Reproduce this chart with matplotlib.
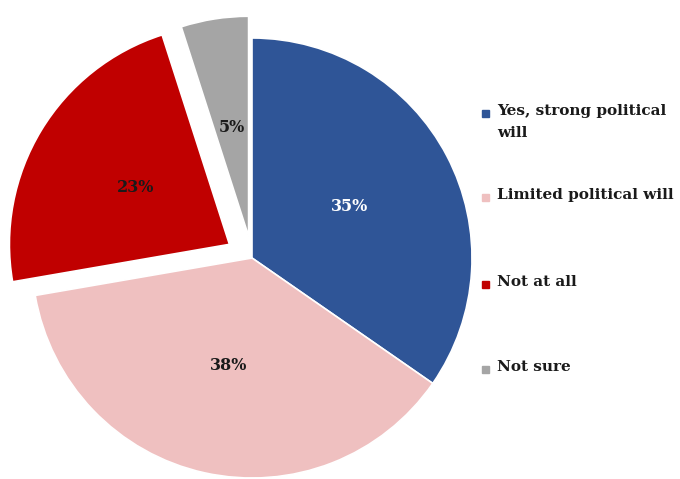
import matplotlib.pyplot as plt
from matplotlib.patches import Rectangle

labels = ['Yes, strong political\nwill', 'Limited political will', 'Not at all', 'Not sure']
values = [35, 38, 23, 5]
colors = ['#2F5597', '#EFC0C0', '#C00000', '#A5A5A5']
explode = [0, 0, 0.12, 0.1]
pct_colors = ['white', '#1a1a1a', '#1a1a1a', '#1a1a1a']

W, H = 680, 479
cx, cy, r = 252, 258, 220  # pie centre and radius in pixels (from top)

fig = plt.figure(figsize=(W / 100, H / 100), dpi=100)
ax = fig.add_axes([0, 0, 1, 1])

total = sum(values)
wedges, texts, autotexts = ax.pie(
    values, colors=colors, explode=explode, startangle=90, counterclock=False,
    autopct=lambda p: f'{p * total / 100:.0f}%', pctdistance=0.5,
    wedgeprops=dict(edgecolor='white', linewidth=1.2))

for t, c in zip(autotexts, pct_colors):
    t.set_color(c)
    t.set_fontsize(11.5)
    t.set_fontweight('bold')
    t.set_family('DejaVu Serif')

ax.set_xlim(-cx / r, (W - cx) / r)
ax.set_ylim(-(H - cy) / r, cy / r)
ax.set_aspect('auto')
ax.axis('off')

# legend drawn by hand
leg_y = [113, 197, 284, 369]
for lab, col, y in zip(labels, colors, leg_y):
    fig.patches.append(Rectangle((482 / W, 1 - (y + 4) / H), 7 / W, 7 / H,
                                 transform=fig.transFigure, color=col))
    fig.text(497 / W, 1 - (y - 9) / H, lab, ha='left', va='top', fontsize=11,
             fontweight='bold', family='DejaVu Serif', color='#1a1a1a',
             linespacing=1.75)

plt.savefig('out.png', dpi=100)
